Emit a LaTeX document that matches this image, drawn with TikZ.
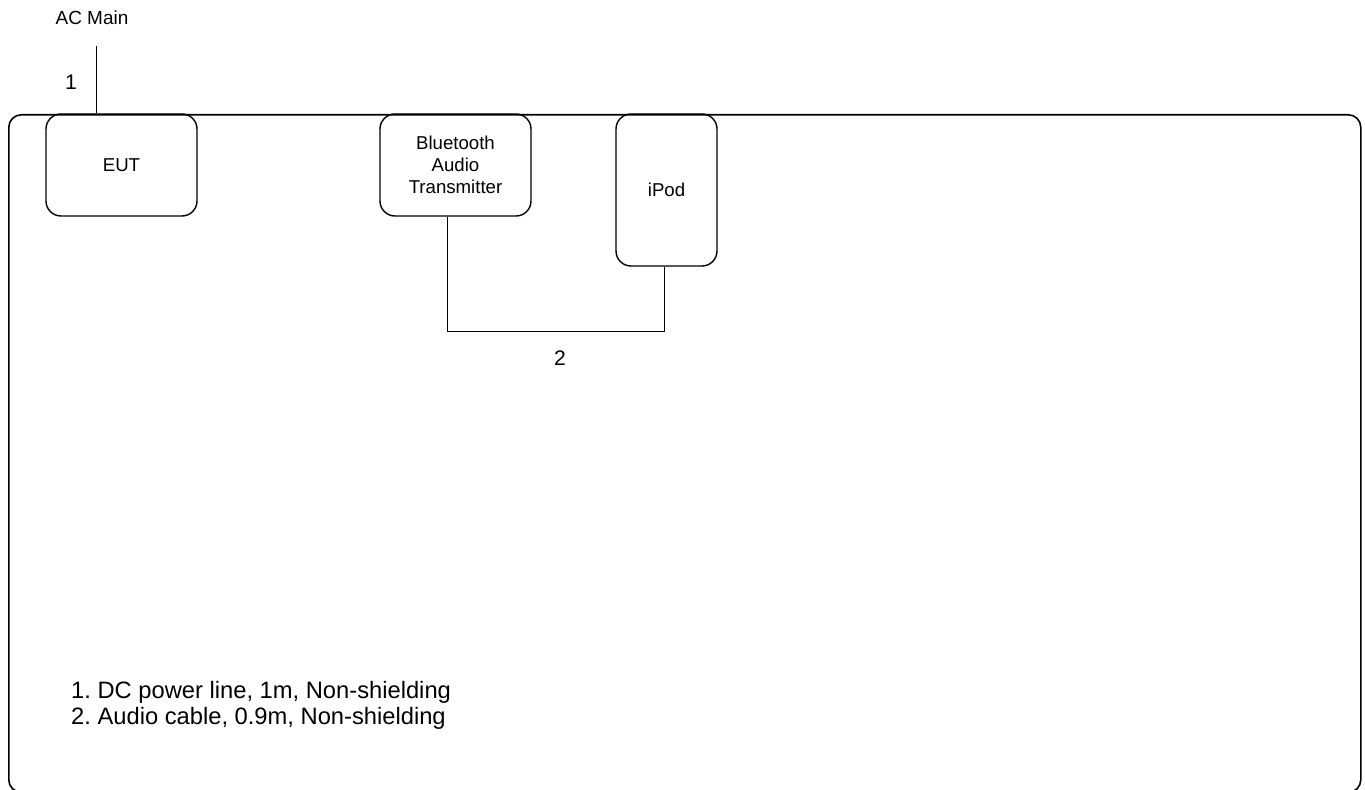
\documentclass[tikz,border=0pt]{standalone}
\usepackage{fontspec}
\setmainfont{Liberation Sans}
\usetikzlibrary{positioning}
\frenchspacing

\begin{document}
\begin{tikzpicture}[
    device/.style={rectangle, draw, line width=0.8pt, rounded corners=0.3cm, align=center, font=\fontsize{10.6}{12.5}\selectfont},
    cable/.style={draw, line width=0.5pt},
    tag/.style={font=\fontsize{12}{14}\selectfont}
]
\useasboundingbox (0,0) rectangle (27.3,15.78);

% Test room
\node[rectangle, draw, line width=0.9pt, rounded corners=0.25cm, minimum width=27.04cm, minimum height=13.55cm, anchor=north west] (room) at (0.16,13.5) {};

% Devices
\node[device, minimum width=3.02cm, minimum height=2.04cm] (eut) at (2.43,12.48) {EUT};
\node[device, minimum width=3.02cm, minimum height=2.04cm] (bt) at (9.11,12.48) {Bluetooth\\Audio\\Transmitter};
\node[device, minimum width=2.02cm, minimum height=3.04cm] (ipod) at (13.33,11.98) {iPod};

% Power
\node[font=\fontsize{10.8}{13}\selectfont] (acmain) at (1.84,15.42) {AC Main};
\coordinate (acline) at (1.92,14.86);
\draw[cable] (acline) -- (acline |- eut.north);
\node[tag] (n1) at (1.42,14.14) {1};

% Audio cable
\draw[cable] ([xshift=-0.17cm]bt.south) -- ++(0,-2.3) -| ([xshift=-0.05cm]ipod.south);
\node[tag] (n2) at (11.2,8.62) {2};

% Notes
\node[anchor=west, align=left, font=\fontsize{13.5}{14.8}\selectfont] (notes) at (1.3,1.68) {1. DC power line, 1m, Non-shielding\\2. Audio cable, 0.9m, Non-shielding};

\end{tikzpicture}
\end{document}
